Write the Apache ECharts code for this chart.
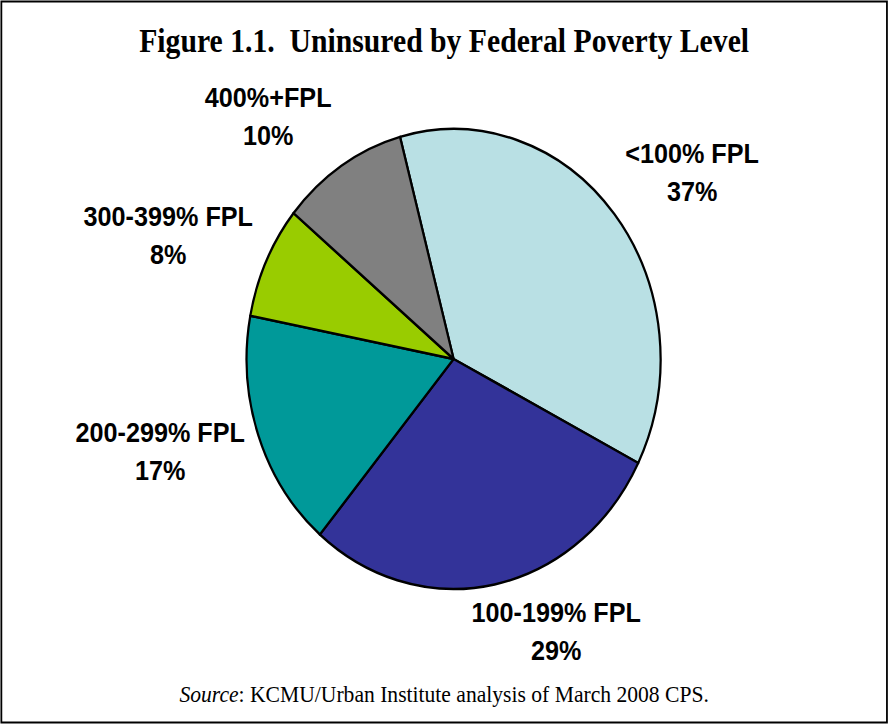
<!DOCTYPE html>
<html><head><meta charset="utf-8">
<script src="https://cdn.jsdelivr.net/npm/echarts@6/dist/echarts.min.js"></script>
<style>
html,body{margin:0;padding:0;background:#fff;overflow:hidden;}
#wrap{width:888px;height:724px;overflow:hidden;position:relative;background:#fff;}
#chart{width:987px;height:724px;transform:scaleX(0.9);transform-origin:0 0;}
</style></head><body><div id="wrap"><div id="chart"></div></div>
<script>
const TITLE = 'Figure 1.1.  Uninsured by Federal Poverty Level';
const SOURCE_LABEL = 'Source';
const SOURCE_TEXT = ': KCMU/Urban Institute analysis of March 2008 CPS.';
const categories = ['<100% FPL', '100-199% FPL', '200-299% FPL', '300-399% FPL', '400%+FPL'];
const values = [37, 29, 17, 8, 10];
const colors = ['#B9E0E4', '#333399', '#009999', '#99CC00', '#808080'];
// label anchor positions (layout only, pre-scale px)
const labelPos = [[769, 173], [618, 632], [178, 452], [187, 236], [298, 117]];

const chart = echarts.init(document.getElementById('chart'), null, {renderer: 'svg'});
const serif = "'Liberation Serif','Times New Roman',Times,serif";
const sans = "'Liberation Sans',Arial,Helvetica,sans-serif";
chart.setOption({
  animation: false,
  backgroundColor: '#fff',
  title: [{
    text: TITLE, left: 'center', top: 18,
    textStyle: {fontFamily: serif, fontSize: 33, fontWeight: 'bold', color: '#000', lineHeight: 35}
  }, {
    text: '{i|' + SOURCE_LABEL + '}' + SOURCE_TEXT, left: 'center', top: 676,
    textStyle: {fontFamily: serif, fontSize: 24, fontWeight: 'normal', color: '#000', lineHeight: 26,
      rich: {i: {fontFamily: serif, fontSize: 24, fontStyle: 'italic', color: '#000', lineHeight: 26}}}
  }],
  graphic: [{
    type: 'rect', silent: true,
    shape: {x: 1.5, y: 1.5, width: 984, height: 721},
    style: {fill: 'none', stroke: '#000', lineWidth: 2}
  }],
  series: [{
    type: 'pie',
    center: [504, 359],
    radius: 230,
    startAngle: 105,
    clockwise: true,
    data: categories.map((c, i) => ({name: c, value: values[i], itemStyle: {color: colors[i]}})),
    itemStyle: {borderColor: '#000', borderWidth: 2.5},
    emphasis: {disabled: true},
    labelLine: {show: false},
    label: {
      show: true, position: 'outside',
      formatter: '{b}\n{c}%',
      fontFamily: sans, fontSize: 28, fontWeight: 'bold', color: '#000', lineHeight: 38, align: 'center'
    },
    labelLayout: function (params) {
      const p = labelPos[params.dataIndex];
      return {x: p[0], y: p[1], align: 'center', verticalAlign: 'middle'};
    }
  }]
});
</script></body></html>
